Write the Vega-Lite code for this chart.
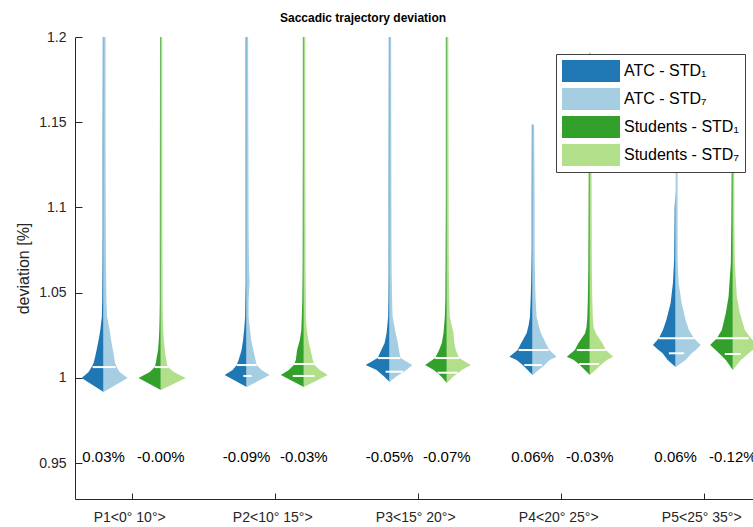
{
  "$schema": "https://vega.github.io/schema/vega-lite/v6.json",
  "autosize": {"type": "none"},
  "width": 678,
  "height": 462,
  "padding": {"left": 75, "top": 37, "right": 0, "bottom": 28},
  "background": "white",
  "title": {"text": "Saccadic trajectory deviation", "fontSize": 12, "fontWeight": "bold", "font": "Liberation Sans", "color": "#000000", "anchor": "middle", "dx": -51, "offset": 5},
  "config": {
    "view": {"stroke": null},
    "font": "Liberation Sans",
    "axis": {"grid": false, "domainColor": "#262626", "tickColor": "#262626", "labelColor": "#262626", "titleColor": "#262626", "labelFont": "Liberation Sans", "titleFont": "Liberation Sans", "titleFontWeight": "normal"}
  },
  "datasets": {
    "vio": [
      {"s":"a1","p":1,"v":0.9917,"l":0.8,"r":0.8},{"s":"a1","p":1,"v":0.9999,"l":0.6462,"r":0.8},{"s":"a1","p":1,"v":1.0034,"l":0.6951,"r":0.8},{"s":"a1","p":1,"v":1.0063,"l":0.7161,"r":0.8},{"s":"a1","p":1,"v":1.0087,"l":0.7301,"r":0.8},{"s":"a1","p":1,"v":1.0122,"l":0.7406,"r":0.8},{"s":"a1","p":1,"v":1.0163,"l":0.751,"r":0.8},{"s":"a1","p":1,"v":1.0222,"l":0.765,"r":0.8},{"s":"a1","p":1,"v":1.0281,"l":0.7769,"r":0.8},{"s":"a1","p":1,"v":1.0357,"l":0.7874,"r":0.8},{"s":"a1","p":1,"v":1.0457,"l":0.7902,"r":0.8},{"s":"a1","p":1,"v":1.0633,"l":0.7916,"r":0.8},{"s":"a1","p":1,"v":1.0867,"l":0.793,"r":0.8},{"s":"a1","p":1,"v":1.1337,"l":0.793,"r":0.8},{"s":"a1","p":1,"v":1.2,"l":0.7944,"r":0.8},
      {"s":"a7","p":1,"v":0.9917,"l":0.8,"r":0.8},{"s":"a7","p":1,"v":0.9999,"l":0.8,"r":0.9678},{"s":"a7","p":1,"v":1.0034,"l":0.8,"r":0.9119},{"s":"a7","p":1,"v":1.0063,"l":0.8,"r":0.8909},{"s":"a7","p":1,"v":1.0087,"l":0.8,"r":0.8804},{"s":"a7","p":1,"v":1.0122,"l":0.8,"r":0.8734},{"s":"a7","p":1,"v":1.0163,"l":0.8,"r":0.865},{"s":"a7","p":1,"v":1.0222,"l":0.8,"r":0.8524},{"s":"a7","p":1,"v":1.0281,"l":0.8,"r":0.842},{"s":"a7","p":1,"v":1.0357,"l":0.8,"r":0.8245},{"s":"a7","p":1,"v":1.0457,"l":0.8,"r":0.8196},{"s":"a7","p":1,"v":1.0633,"l":0.8,"r":0.8175},{"s":"a7","p":1,"v":1.0867,"l":0.8,"r":0.8154},{"s":"a7","p":1,"v":1.1337,"l":0.8,"r":0.814},{"s":"a7","p":1,"v":1.2,"l":0.8,"r":0.814},
      {"s":"s1","p":1,"v":0.9928,"l":1.2,"r":1.2},{"s":"s1","p":1,"v":0.9999,"l":1.0441,"r":1.2},{"s":"s1","p":1,"v":1.0034,"l":1.1231,"r":1.2},{"s":"s1","p":1,"v":1.0063,"l":1.158,"r":1.2},{"s":"s1","p":1,"v":1.0087,"l":1.165,"r":1.2},{"s":"s1","p":1,"v":1.0122,"l":1.172,"r":1.2},{"s":"s1","p":1,"v":1.0163,"l":1.1811,"r":1.2},{"s":"s1","p":1,"v":1.0222,"l":1.186,"r":1.2},{"s":"s1","p":1,"v":1.0281,"l":1.1895,"r":1.2},{"s":"s1","p":1,"v":1.0357,"l":1.1916,"r":1.2},{"s":"s1","p":1,"v":1.0457,"l":1.193,"r":1.2},{"s":"s1","p":1,"v":1.0867,"l":1.193,"r":1.2},{"s":"s1","p":1,"v":1.2,"l":1.1944,"r":1.2},
      {"s":"s7","p":1,"v":0.9928,"l":1.2,"r":1.2},{"s":"s7","p":1,"v":0.9999,"l":1.2,"r":1.3748},{"s":"s7","p":1,"v":1.0034,"l":1.2,"r":1.2909},{"s":"s7","p":1,"v":1.0063,"l":1.2,"r":1.249},{"s":"s7","p":1,"v":1.0087,"l":1.2,"r":1.242},{"s":"s7","p":1,"v":1.0122,"l":1.2,"r":1.235},{"s":"s7","p":1,"v":1.0163,"l":1.2,"r":1.228},{"s":"s7","p":1,"v":1.0222,"l":1.2,"r":1.221},{"s":"s7","p":1,"v":1.0281,"l":1.2,"r":1.2175},{"s":"s7","p":1,"v":1.0357,"l":1.2,"r":1.214},{"s":"s7","p":1,"v":1.0457,"l":1.2,"r":1.2126},{"s":"s7","p":1,"v":1.0867,"l":1.2,"r":1.2112},{"s":"s7","p":1,"v":1.2,"l":1.2,"r":1.2105},
      {"s":"a1","p":2,"v":0.9946,"l":1.8,"r":1.8},{"s":"a1","p":2,"v":1.0016,"l":1.6462,"r":1.8},{"s":"a1","p":2,"v":1.0046,"l":1.7021,"r":1.8},{"s":"a1","p":2,"v":1.0075,"l":1.7301,"r":1.8},{"s":"a1","p":2,"v":1.0104,"l":1.744,"r":1.8},{"s":"a1","p":2,"v":1.0163,"l":1.765,"r":1.8},{"s":"a1","p":2,"v":1.0222,"l":1.7755,"r":1.8},{"s":"a1","p":2,"v":1.0281,"l":1.7825,"r":1.8},{"s":"a1","p":2,"v":1.0357,"l":1.7895,"r":1.8},{"s":"a1","p":2,"v":1.0457,"l":1.7909,"r":1.8},{"s":"a1","p":2,"v":1.0556,"l":1.793,"r":1.8},{"s":"a1","p":2,"v":1.0867,"l":1.793,"r":1.8},{"s":"a1","p":2,"v":1.2,"l":1.793,"r":1.8},
      {"s":"a7","p":2,"v":0.9946,"l":1.8,"r":1.8},{"s":"a7","p":2,"v":1.0016,"l":1.8,"r":1.9608},{"s":"a7","p":2,"v":1.0046,"l":1.8,"r":1.9049},{"s":"a7","p":2,"v":1.0075,"l":1.8,"r":1.8699},{"s":"a7","p":2,"v":1.0104,"l":1.8,"r":1.8629},{"s":"a7","p":2,"v":1.0163,"l":1.8,"r":1.8469},{"s":"a7","p":2,"v":1.0222,"l":1.8,"r":1.8315},{"s":"a7","p":2,"v":1.0281,"l":1.8,"r":1.8245},{"s":"a7","p":2,"v":1.0357,"l":1.8,"r":1.814},{"s":"a7","p":2,"v":1.0457,"l":1.8,"r":1.814},{"s":"a7","p":2,"v":1.0556,"l":1.8,"r":1.821},{"s":"a7","p":2,"v":1.0633,"l":1.8,"r":1.8175},{"s":"a7","p":2,"v":1.0867,"l":1.8,"r":1.814},{"s":"a7","p":2,"v":1.1337,"l":1.8,"r":1.8126},{"s":"a7","p":2,"v":1.2,"l":1.8,"r":1.8105},
      {"s":"s1","p":2,"v":0.9946,"l":2.2,"r":2.2},{"s":"s1","p":2,"v":1.0016,"l":2.0392,"r":2.2},{"s":"s1","p":2,"v":1.0046,"l":2.0951,"r":2.2},{"s":"s1","p":2,"v":1.0075,"l":2.1301,"r":2.2},{"s":"s1","p":2,"v":1.0104,"l":2.144,"r":2.2},{"s":"s1","p":2,"v":1.0163,"l":2.1531,"r":2.2},{"s":"s1","p":2,"v":1.0222,"l":2.172,"r":2.2},{"s":"s1","p":2,"v":1.0281,"l":2.1825,"r":2.2},{"s":"s1","p":2,"v":1.0357,"l":2.186,"r":2.2},{"s":"s1","p":2,"v":1.0457,"l":2.1895,"r":2.2},{"s":"s1","p":2,"v":1.0633,"l":2.1916,"r":2.2},{"s":"s1","p":2,"v":1.1337,"l":2.193,"r":2.2},{"s":"s1","p":2,"v":1.2,"l":2.193,"r":2.2},
      {"s":"s7","p":2,"v":0.9946,"l":2.2,"r":2.2},{"s":"s7","p":2,"v":1.0016,"l":2.2,"r":2.3678},{"s":"s7","p":2,"v":1.0046,"l":2.2,"r":2.3119},{"s":"s7","p":2,"v":1.0075,"l":2.2,"r":2.2734},{"s":"s7","p":2,"v":1.0104,"l":2.2,"r":2.2629},{"s":"s7","p":2,"v":1.0163,"l":2.2,"r":2.2469},{"s":"s7","p":2,"v":1.0222,"l":2.2,"r":2.2315},{"s":"s7","p":2,"v":1.0281,"l":2.2,"r":2.221},{"s":"s7","p":2,"v":1.0357,"l":2.2,"r":2.214},{"s":"s7","p":2,"v":1.0457,"l":2.2,"r":2.214},{"s":"s7","p":2,"v":1.0633,"l":2.2,"r":2.2126},{"s":"s7","p":2,"v":1.1337,"l":2.2,"r":2.2105},{"s":"s7","p":2,"v":1.2,"l":2.2,"r":2.2105},
      {"s":"a1","p":3,"v":0.9975,"l":2.8,"r":2.8},{"s":"a1","p":3,"v":1.0005,"l":2.765,"r":2.8},{"s":"a1","p":3,"v":1.0046,"l":2.7091,"r":2.8},{"s":"a1","p":3,"v":1.0075,"l":2.6322,"r":2.8},{"s":"a1","p":3,"v":1.0116,"l":2.7161,"r":2.8},{"s":"a1","p":3,"v":1.0163,"l":2.742,"r":2.8},{"s":"a1","p":3,"v":1.0204,"l":2.765,"r":2.8},{"s":"a1","p":3,"v":1.0263,"l":2.779,"r":2.8},{"s":"a1","p":3,"v":1.0357,"l":2.7895,"r":2.8},{"s":"a1","p":3,"v":1.0457,"l":2.7916,"r":2.8},{"s":"a1","p":3,"v":1.0633,"l":2.793,"r":2.8},{"s":"a1","p":3,"v":1.1044,"l":2.793,"r":2.8},{"s":"a1","p":3,"v":1.2,"l":2.7944,"r":2.8},
      {"s":"a7","p":3,"v":0.9975,"l":2.8,"r":2.8},{"s":"a7","p":3,"v":1.0005,"l":2.8,"r":2.842},{"s":"a7","p":3,"v":1.0046,"l":2.8,"r":2.9168},{"s":"a7","p":3,"v":1.0075,"l":2.8,"r":2.9587},{"s":"a7","p":3,"v":1.0116,"l":2.8,"r":2.8769},{"s":"a7","p":3,"v":1.0163,"l":2.8,"r":2.865},{"s":"a7","p":3,"v":1.0204,"l":2.8,"r":2.858},{"s":"a7","p":3,"v":1.0263,"l":2.8,"r":2.842},{"s":"a7","p":3,"v":1.0357,"l":2.8,"r":2.821},{"s":"a7","p":3,"v":1.0457,"l":2.8,"r":2.8175},{"s":"a7","p":3,"v":1.0633,"l":2.8,"r":2.814},{"s":"a7","p":3,"v":1.1044,"l":2.8,"r":2.8126},{"s":"a7","p":3,"v":1.2,"l":2.8,"r":2.8105},
      {"s":"s1","p":3,"v":0.997,"l":3.2,"r":3.2},{"s":"s1","p":3,"v":1.0005,"l":3.165,"r":3.2},{"s":"s1","p":3,"v":1.0046,"l":3.1091,"r":3.2},{"s":"s1","p":3,"v":1.0075,"l":3.0483,"r":3.2},{"s":"s1","p":3,"v":1.0116,"l":3.1182,"r":3.2},{"s":"s1","p":3,"v":1.0163,"l":3.1462,"r":3.2},{"s":"s1","p":3,"v":1.0204,"l":3.165,"r":3.2},{"s":"s1","p":3,"v":1.0263,"l":3.1769,"r":3.2},{"s":"s1","p":3,"v":1.0357,"l":3.186,"r":3.2},{"s":"s1","p":3,"v":1.0457,"l":3.1895,"r":3.2},{"s":"s1","p":3,"v":1.0633,"l":3.1909,"r":3.2},{"s":"s1","p":3,"v":1.1044,"l":3.193,"r":3.2},{"s":"s1","p":3,"v":1.2,"l":3.193,"r":3.2},
      {"s":"s7","p":3,"v":0.997,"l":3.2,"r":3.2},{"s":"s7","p":3,"v":1.0005,"l":3.2,"r":3.242},{"s":"s7","p":3,"v":1.0046,"l":3.2,"r":3.3049},{"s":"s7","p":3,"v":1.0075,"l":3.2,"r":3.3678},{"s":"s7","p":3,"v":1.0116,"l":3.2,"r":3.286},{"s":"s7","p":3,"v":1.0163,"l":3.2,"r":3.2629},{"s":"s7","p":3,"v":1.0204,"l":3.2,"r":3.2524},{"s":"s7","p":3,"v":1.0263,"l":3.2,"r":3.2469},{"s":"s7","p":3,"v":1.0357,"l":3.2,"r":3.221},{"s":"s7","p":3,"v":1.0457,"l":3.2,"r":3.2175},{"s":"s7","p":3,"v":1.0633,"l":3.2,"r":3.214},{"s":"s7","p":3,"v":1.1044,"l":3.2,"r":3.2126},{"s":"s7","p":3,"v":1.2,"l":3.2,"r":3.2105},
      {"s":"a1","p":4,"v":1.0016,"l":3.8,"r":3.8},{"s":"a1","p":4,"v":1.0075,"l":3.7301,"r":3.8},{"s":"a1","p":4,"v":1.0104,"l":3.6881,"r":3.8},{"s":"a1","p":4,"v":1.0124,"l":3.6371,"r":3.8},{"s":"a1","p":4,"v":1.0163,"l":3.6951,"r":3.8},{"s":"a1","p":4,"v":1.0202,"l":3.7182,"r":3.8},{"s":"a1","p":4,"v":1.0261,"l":3.758,"r":3.8},{"s":"a1","p":4,"v":1.0308,"l":3.772,"r":3.8},{"s":"a1","p":4,"v":1.0357,"l":3.7811,"r":3.8},{"s":"a1","p":4,"v":1.0457,"l":3.786,"r":3.8},{"s":"a1","p":4,"v":1.0556,"l":3.7895,"r":3.8},{"s":"a1","p":4,"v":1.075,"l":3.793,"r":3.8},{"s":"a1","p":4,"v":1.1044,"l":3.793,"r":3.8},{"s":"a1","p":4,"v":1.1484,"l":3.7944,"r":3.8},{"s":"a1","p":4,"v":1.149,"l":3.8,"r":3.8},
      {"s":"a7","p":4,"v":1.0016,"l":3.8,"r":3.8},{"s":"a7","p":4,"v":1.0075,"l":3.8,"r":3.8839},{"s":"a7","p":4,"v":1.0104,"l":3.8,"r":3.9189},{"s":"a7","p":4,"v":1.0124,"l":3.8,"r":3.9678},{"s":"a7","p":4,"v":1.0163,"l":3.8,"r":3.9168},{"s":"a7","p":4,"v":1.0202,"l":3.8,"r":3.893},{"s":"a7","p":4,"v":1.0261,"l":3.8,"r":3.858},{"s":"a7","p":4,"v":1.0308,"l":3.8,"r":3.842},{"s":"a7","p":4,"v":1.0357,"l":3.8,"r":3.828},{"s":"a7","p":4,"v":1.0457,"l":3.8,"r":3.821},{"s":"a7","p":4,"v":1.0556,"l":3.8,"r":3.8175},{"s":"a7","p":4,"v":1.075,"l":3.8,"r":3.814},{"s":"a7","p":4,"v":1.1044,"l":3.8,"r":3.814},{"s":"a7","p":4,"v":1.1484,"l":3.8,"r":3.8105},{"s":"a7","p":4,"v":1.149,"l":3.8,"r":3.8},
      {"s":"s1","p":4,"v":1.0016,"l":4.2,"r":4.2},{"s":"s1","p":4,"v":1.0075,"l":4.1301,"r":4.2},{"s":"s1","p":4,"v":1.0104,"l":4.0881,"r":4.2},{"s":"s1","p":4,"v":1.0124,"l":4.0392,"r":4.2},{"s":"s1","p":4,"v":1.0163,"l":4.0951,"r":4.2},{"s":"s1","p":4,"v":1.0202,"l":4.1182,"r":4.2},{"s":"s1","p":4,"v":1.0261,"l":4.1671,"r":4.2},{"s":"s1","p":4,"v":1.0298,"l":4.1769,"r":4.2},{"s":"s1","p":4,"v":1.0357,"l":4.1825,"r":4.2},{"s":"s1","p":4,"v":1.0457,"l":4.186,"r":4.2},{"s":"s1","p":4,"v":1.0633,"l":4.1895,"r":4.2},{"s":"s1","p":4,"v":1.1044,"l":4.1916,"r":4.2},{"s":"s1","p":4,"v":1.163,"l":4.193,"r":4.2},{"s":"s1","p":4,"v":1.19,"l":4.1944,"r":4.2},{"s":"s1","p":4,"v":1.191,"l":4.2,"r":4.2},
      {"s":"s7","p":4,"v":1.0016,"l":4.2,"r":4.2},{"s":"s7","p":4,"v":1.0075,"l":4.2,"r":4.2769},{"s":"s7","p":4,"v":1.0104,"l":4.2,"r":4.3189},{"s":"s7","p":4,"v":1.0124,"l":4.2,"r":4.3629},{"s":"s7","p":4,"v":1.0163,"l":4.2,"r":4.3119},{"s":"s7","p":4,"v":1.0202,"l":4.2,"r":4.2888},{"s":"s7","p":4,"v":1.0261,"l":4.2,"r":4.242},{"s":"s7","p":4,"v":1.0298,"l":4.2,"r":4.2259},{"s":"s7","p":4,"v":1.0357,"l":4.2,"r":4.221},{"s":"s7","p":4,"v":1.0457,"l":4.2,"r":4.2175},{"s":"s7","p":4,"v":1.0633,"l":4.2,"r":4.214},{"s":"s7","p":4,"v":1.1044,"l":4.2,"r":4.2126},{"s":"s7","p":4,"v":1.163,"l":4.2,"r":4.2105},{"s":"s7","p":4,"v":1.19,"l":4.2,"r":4.2084},{"s":"s7","p":4,"v":1.191,"l":4.2,"r":4.2},
      {"s":"a1","p":5,"v":1.0063,"l":4.8,"r":4.8},{"s":"a1","p":5,"v":1.0104,"l":4.744,"r":4.8},{"s":"a1","p":5,"v":1.0144,"l":4.7091,"r":4.8},{"s":"a1","p":5,"v":1.0168,"l":4.6741,"r":4.8},{"s":"a1","p":5,"v":1.0192,"l":4.6413,"r":4.8},{"s":"a1","p":5,"v":1.0233,"l":4.6832,"r":4.8},{"s":"a1","p":5,"v":1.028,"l":4.7112,"r":4.8},{"s":"a1","p":5,"v":1.034,"l":4.735,"r":4.8},{"s":"a1","p":5,"v":1.0439,"l":4.765,"r":4.8},{"s":"a1","p":5,"v":1.0556,"l":4.7811,"r":4.8},{"s":"a1","p":5,"v":1.0691,"l":4.7895,"r":4.8},{"s":"a1","p":5,"v":1.1002,"l":4.793,"r":4.8},{"s":"a1","p":5,"v":1.11,"l":4.8,"r":4.8},
      {"s":"a7","p":5,"v":1.0063,"l":4.8,"r":4.8},{"s":"a7","p":5,"v":1.0104,"l":4.8,"r":4.8699},{"s":"a7","p":5,"v":1.0144,"l":4.8,"r":4.9119},{"s":"a7","p":5,"v":1.0168,"l":4.8,"r":4.9469},{"s":"a7","p":5,"v":1.0192,"l":4.8,"r":4.9748},{"s":"a7","p":5,"v":1.0233,"l":4.8,"r":4.928},{"s":"a7","p":5,"v":1.028,"l":4.8,"r":4.893},{"s":"a7","p":5,"v":1.034,"l":4.8,"r":4.8699},{"s":"a7","p":5,"v":1.0439,"l":4.8,"r":4.842},{"s":"a7","p":5,"v":1.0556,"l":4.8,"r":4.821},{"s":"a7","p":5,"v":1.0691,"l":4.8,"r":4.814},{"s":"a7","p":5,"v":1.1044,"l":4.8,"r":4.814},{"s":"a7","p":5,"v":1.122,"l":4.8,"r":4.814},{"s":"a7","p":5,"v":1.17,"l":4.8,"r":4.8105},{"s":"a7","p":5,"v":1.171,"l":4.8,"r":4.8},
      {"s":"s1","p":5,"v":1.0046,"l":5.2,"r":5.2},{"s":"s1","p":5,"v":1.0104,"l":5.151,"r":5.2},{"s":"s1","p":5,"v":1.014,"l":5.1091,"r":5.2},{"s":"s1","p":5,"v":1.0168,"l":5.0741,"r":5.2},{"s":"s1","p":5,"v":1.0192,"l":5.0413,"r":5.2},{"s":"s1","p":5,"v":1.0233,"l":5.0881,"r":5.2},{"s":"s1","p":5,"v":1.028,"l":5.1231,"r":5.2},{"s":"s1","p":5,"v":1.038,"l":5.151,"r":5.2},{"s":"s1","p":5,"v":1.0474,"l":5.1699,"r":5.2},{"s":"s1","p":5,"v":1.0674,"l":5.186,"r":5.2},{"s":"s1","p":5,"v":1.0926,"l":5.1895,"r":5.2},{"s":"s1","p":5,"v":1.122,"l":5.1916,"r":5.2},{"s":"s1","p":5,"v":1.16,"l":5.1944,"r":5.2},{"s":"s1","p":5,"v":1.161,"l":5.2,"r":5.2},
      {"s":"s7","p":5,"v":1.0046,"l":5.2,"r":5.2},{"s":"s7","p":5,"v":1.0104,"l":5.2,"r":5.256},{"s":"s7","p":5,"v":1.014,"l":5.2,"r":5.3049},{"s":"s7","p":5,"v":1.0168,"l":5.2,"r":5.3469},{"s":"s7","p":5,"v":1.0192,"l":5.2,"r":5.3748},{"s":"s7","p":5,"v":1.0233,"l":5.2,"r":5.3259},{"s":"s7","p":5,"v":1.028,"l":5.2,"r":5.2839},{"s":"s7","p":5,"v":1.038,"l":5.2,"r":5.249},{"s":"s7","p":5,"v":1.0474,"l":5.2,"r":5.228},{"s":"s7","p":5,"v":1.0674,"l":5.2,"r":5.214},{"s":"s7","p":5,"v":1.0926,"l":5.2,"r":5.2105},{"s":"s7","p":5,"v":1.122,"l":5.2,"r":5.2105},{"s":"s7","p":5,"v":1.16,"l":5.2,"r":5.2084},{"s":"s7","p":5,"v":1.161,"l":5.2,"r":5.2}
    ],
    "lines": [
      {"v":1.0063,"l":0.723,"r":0.884},{"v":1.0063,"l":1.158,"r":1.249},
      {"v":1.0075,"l":1.730,"r":1.870},{"v":1.0081,"l":2.130,"r":2.270},
      {"v":1.0116,"l":2.718,"r":2.875},{"v":1.0116,"l":3.118,"r":3.286},
      {"v":1.0163,"l":3.702,"r":3.912},{"v":1.0163,"l":4.109,"r":4.312},
      {"v":1.0233,"l":4.683,"r":4.928},{"v":1.0233,"l":5.076,"r":5.310},
      {"v":1.0011,"l":1.777,"r":1.835},{"v":1.0011,"l":2.123,"r":2.275},
      {"v":1.0036,"l":2.772,"r":2.893},{"v":1.003,"l":3.135,"r":3.275},
      {"v":1.0075,"l":3.742,"r":3.865},{"v":1.0081,"l":4.125,"r":4.265},
      {"v":1.0144,"l":4.753,"r":4.858},{"v":1.014,"l":5.144,"r":5.256}
    ],
    "pct": [
      {"x":0.8,"t":"0.03%"},{"x":1.2,"t":"-0.00%"},
      {"x":1.8,"t":"-0.09%"},{"x":2.2,"t":"-0.03%"},
      {"x":2.8,"t":"-0.05%"},{"x":3.2,"t":"-0.07%"},
      {"x":3.8,"t":"0.06%"},{"x":4.2,"t":"-0.03%"},
      {"x":4.8,"t":"0.06%"},{"x":5.2,"t":"-0.12%"}
    ]
  },
  "layer": [
    {
      "data": {"name": "vio"},
      "mark": {"type": "area", "orient": "horizontal"},
      "encoding": {
        "y": {"field": "v", "type": "quantitative", "scale": {"domain": [0.9289, 1.2], "nice": false, "zero": false},
              "axis": {"values": [0.95, 1, 1.05, 1.1, 1.15, 1.2], "format": "~g", "title": "deviation [%]", "titleFontSize": 16, "titlePadding": 7, "labelFontSize": 14, "tickSize": -7, "labelPadding": 16, "domainWidth": 1}},
        "x": {"field": "l", "type": "quantitative", "stack": null, "scale": {"domain": [0.6, 5.341], "nice": false, "zero": false},
              "axis": {"values": [1, 2, 3, 4, 5], "labelExpr": "['','P1<0° 10°>','P2<10° 15°>','P3<15° 20°>','P4<20° 25°>','P5<25° 35°>'][datum.value]", "title": null, "labelFontSize": 14, "tickSize": -6, "labelPadding": 17, "labelOffset": -3, "domainWidth": 1}},
        "x2": {"field": "r"},
        "detail": {"field": "p", "type": "nominal"},
        "color": {"field": "s", "type": "nominal",
                  "scale": {"domain": ["a1", "a7", "s1", "s7"], "range": ["#1f78b4", "#a6cee3", "#33a02c", "#b2df8a"]},
                  "legend": {"title": null, "orient": "none", "legendX": 481, "legendY": 17,
                             "labelExpr": "datum.value == 'a1' ? 'ATC - STD₁' : datum.value == 'a7' ? 'ATC - STD₇' : datum.value == 's1' ? 'Students - STD₁' : 'Students - STD₇'",
                             "symbolType": "M-1,-0.38H1V0.38H-1Z", "symbolSize": 3364, "symbolStrokeWidth": 0, "symbolOpacity": 1,
                             "clipHeight": 22, "rowPadding": 6, "labelOffset": 4, "labelFontSize": 16, "labelFont": "Liberation Sans", "labelColor": "#000000",
                             "padding": 6, "strokeColor": "#404040", "fillColor": "white", "cornerRadius": 0}}
      }
    },
    {
      "data": {"name": "lines"},
      "mark": {"type": "rule", "color": "white", "strokeWidth": 2},
      "encoding": {
        "y": {"field": "v", "type": "quantitative"},
        "x": {"field": "l", "type": "quantitative"},
        "x2": {"field": "r"}
      }
    },
    {
      "data": {"name": "pct"},
      "mark": {"type": "text", "fontSize": 15, "font": "Liberation Sans", "color": "#000000", "baseline": "middle", "align": "center"},
      "encoding": {
        "x": {"field": "x", "type": "quantitative"},
        "y": {"datum": 0.9535},
        "text": {"field": "t"}
      }
    }
  ]
}
